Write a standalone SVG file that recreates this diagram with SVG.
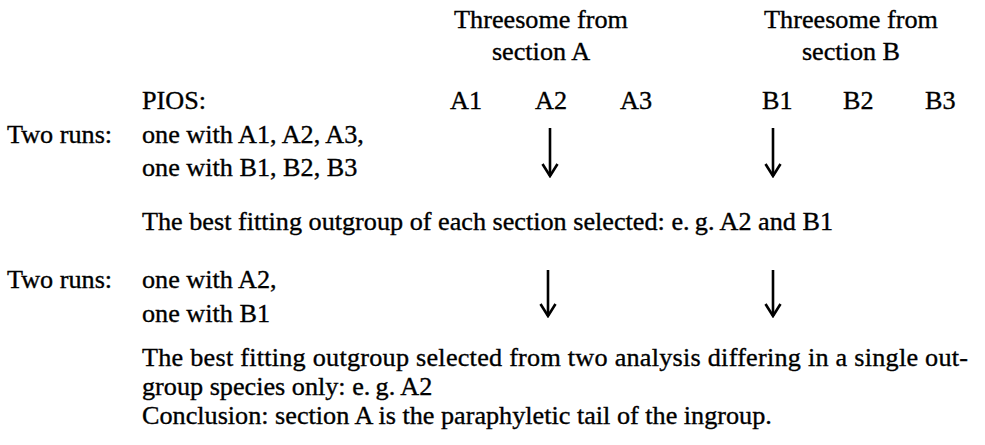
<svg xmlns="http://www.w3.org/2000/svg" width="985" height="445" viewBox="0 0 985 445">
<style>
text{font-family:"Liberation Serif","Times New Roman",serif;font-size:26.2px;fill:#000;stroke:#000;stroke-width:0.35px}
.c{text-anchor:middle}
.arr{stroke:#000;stroke-width:2.6;fill:none;stroke-linecap:butt}
</style>
<defs>
<marker id="ah" markerUnits="userSpaceOnUse" viewBox="-14 -9 16 18" refX="0" refY="0" markerWidth="16" markerHeight="18" orient="auto">
<path d="M-12,-7.5 L0,0 L-12,7.5" fill="none" stroke="#000" stroke-width="2.6"/>
</marker>
</defs>
<rect width="985" height="445" fill="#fff"/>
<g id="headerA">
<text class="c" x="541" y="28">Threesome from</text>
<text class="c" x="541" y="60">section A</text>
</g>
<g id="headerB">
<text class="c" x="851" y="28">Threesome from</text>
<text class="c" x="851" y="60">section B</text>
</g>
<g id="pios">
<text x="142" y="109">PIOS:</text>
<text x="450" y="109">A1</text>
<text x="535" y="109">A2</text>
<text x="620" y="109">A3</text>
<text x="762" y="109">B1</text>
<text x="843" y="109">B2</text>
<text x="925" y="109">B3</text>
</g>
<g id="run1">
<text x="7" y="143">Two runs:</text>
<text x="142" y="143">one with A1, A2, A3,</text>
<text x="142" y="176">one with B1, B2, B3</text>
</g>
<g id="select1">
<text x="142" y="230">The best fitting outgroup of each section selected: e.&#8201;g. A2 and B1</text>
</g>
<g id="run2">
<text x="7" y="288">Two runs:</text>
<text x="142" y="288">one with A2,</text>
<text x="142" y="322">one with B1</text>
</g>
<g id="conclusion">
<text x="142" y="366" textLength="826" lengthAdjust="spacing">The best fitting outgroup selected from two analysis differing in a single out-</text>
<text x="142" y="395">group species only: e.&#8201;g. A2</text>
<text x="142" y="424">Conclusion: section A is the paraphyletic tail of the ingroup.</text>
</g>
<g id="connectors">
<path class="arr" d="M550,128 V176" marker-end="url(#ah)"/>
<path class="arr" d="M773,128 V176" marker-end="url(#ah)"/>
<path class="arr" d="M548,270 V316" marker-end="url(#ah)"/>
<path class="arr" d="M773,270 V316" marker-end="url(#ah)"/>
</g>
</svg>
